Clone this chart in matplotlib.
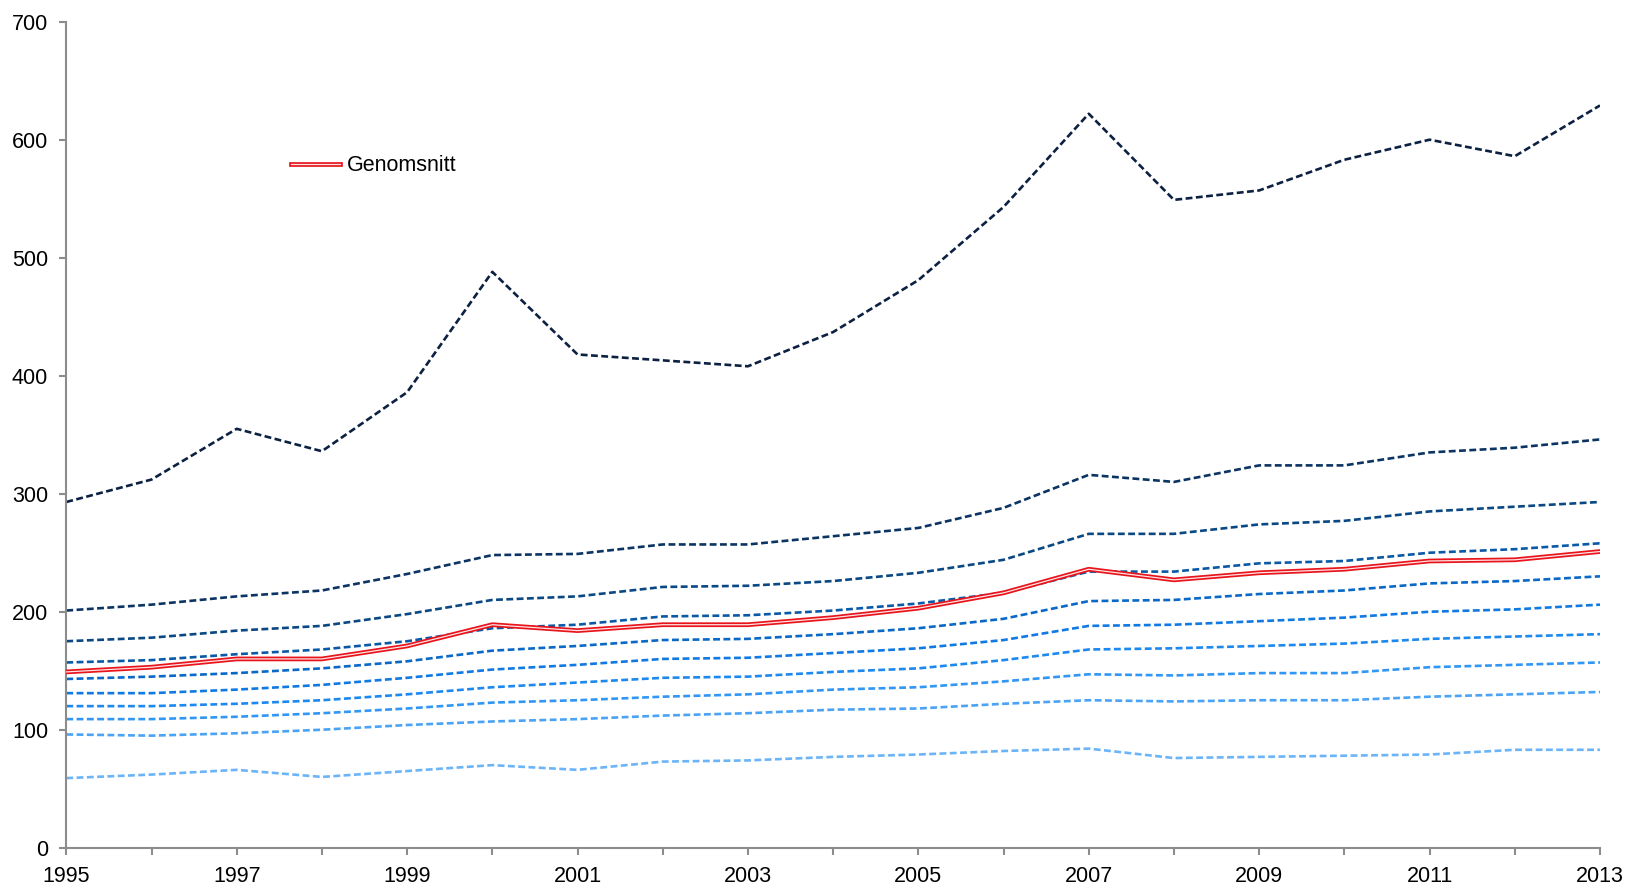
import numpy as np
import matplotlib
matplotlib.use("Agg")
import matplotlib.pyplot as plt
import matplotlib.patheffects as pe

plt.rcParams['font.family'] = ['Liberation Sans', 'DejaVu Sans']

years = np.arange(1995, 2014)

# tio serier (streckade), från högst till lägst
s1 = [293, 312, 355, 336, 386, 488, 418, 413, 408, 437, 481, 543, 622, 549, 557, 583, 600, 586, 629]
s2 = [201, 206, 213, 218, 232, 248, 249, 257, 257, 264, 271, 288, 316, 310, 324, 324, 335, 339, 346]
s3 = [175, 178, 184, 188, 198, 210, 213, 221, 222, 226, 233, 244, 266, 266, 274, 277, 285, 289, 293]
s4 = [157, 159, 164, 168, 175, 186, 189, 196, 197, 201, 207, 216, 234, 234, 241, 243, 250, 253, 258]
s5 = [143, 145, 148, 152, 158, 167, 171, 176, 177, 181, 186, 194, 209, 210, 215, 218, 224, 226, 230]
s6 = [131, 131, 134, 138, 144, 151, 155, 160, 161, 165, 169, 176, 188, 189, 192, 195, 200, 202, 206]
s7 = [120, 120, 122, 125, 130, 136, 140, 144, 145, 149, 152, 159, 168, 169, 171, 173, 177, 179, 181]
s8 = [109, 109, 111, 114, 118, 123, 125, 128, 130, 134, 136, 141, 147, 146, 148, 148, 153, 155, 157]
s9 = [96, 95, 97, 100, 104, 107, 109, 112, 114, 117, 118, 122, 125, 124, 125, 125, 128, 130, 132]
s10 = [59, 62, 66, 60, 65, 70, 66, 73, 74, 77, 79, 82, 84, 76, 77, 78, 79, 83, 83]

genomsnitt = [149, 153, 160, 160, 171, 189, 184, 189, 189, 195, 203, 216, 236, 227, 233, 236, 243, 244, 251]

series = [s1, s2, s3, s4, s5, s6, s7, s8, s9, s10]
colors = ['#0c2142', '#0b3464', '#0a4884', '#0a59a6', '#0a68c6',
          '#1179e2', '#1d88ee', '#3196f4', '#4aa3f5', '#6cb4f8']

fig = plt.figure(figsize=(16.25, 8.85), dpi=100)
ax = fig.add_axes([0.0408, 0.0421, 0.9438, 0.9334])

for s, c in zip(series, colors):
    ax.plot(years, s, color=c, lw=1.9, linestyle=(0, (2.6, 1.3)), zorder=2)

ax.plot(years, genomsnitt, color='#ffe4e4', lw=0.9, label='Genomsnitt', zorder=3,
        path_effects=[pe.Stroke(linewidth=3.4, foreground='#e8141c'), pe.Normal()])

ax.set_xlim(1995, 2013)
ax.set_ylim(0, 700)
ax.set_yticks(np.arange(0, 701, 100))
ax.set_xticks(np.arange(1995, 2014, 2))
ax.set_xticks(np.arange(1995, 2014, 1), minor=True)

for sp in ['top', 'right']:
    ax.spines[sp].set_visible(False)
for sp in ['left', 'bottom']:
    ax.spines[sp].set_color('#8c8c8c')
    ax.spines[sp].set_linewidth(1.5)

ax.tick_params(axis='both', which='both', direction='out', length=5, width=1.5,
               color='#8c8c8c', labelsize=15.5, labelcolor='black')
ax.tick_params(axis='x', which='major', pad=8)
ax.tick_params(axis='y', pad=8)

leg = fig.legend(loc='center left', bbox_to_anchor=(0.179, 0.8128), frameon=False,
                 fontsize=15.5, handlelength=2.3, handletextpad=0.3,
                 borderpad=0, borderaxespad=0)

fig.savefig('out.png', dpi=100)
